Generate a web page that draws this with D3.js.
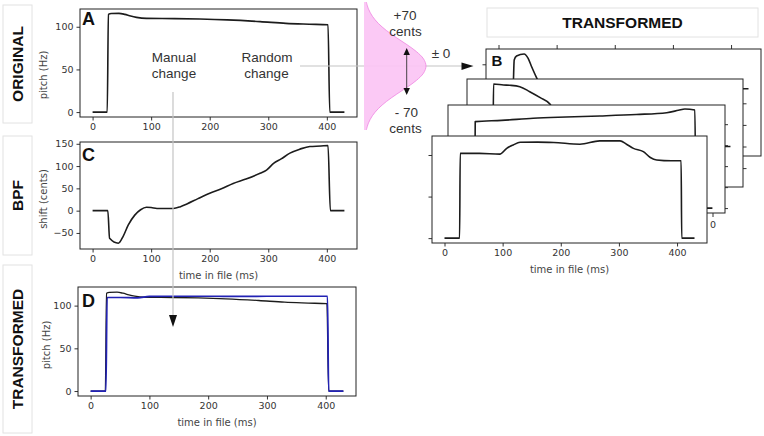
<!DOCTYPE html>
<html lang="en">
<head>
  <meta charset="UTF-8">
  <title>Original, BPF and transformed pitch</title>
  <script src="https://d3js.org/d3.v7.min.js"></script>
  <style>
    body {
      margin: 0;
      background: #fff;
    }

    svg {
      display: block;
    }
  </style>
</head>

<body>
  <svg></svg>

  <script>
    // ticks
    const xTicks = [0, 100, 200, 300, 400];
    const pitchTicks = [0, 50, 100];
    const shiftTicks = [-50, 0, 50, 100, 150];

    // A - original pitch (Hz) against time in file (ms)
    const origTime = [0, 25, 27, 32, 45, 55, 65, 75, 92, 140, 183, 230, 286, 330, 370, 402, 405, 430];
    const origPitch = [0, 0, 114.5, 115.5, 115.7, 114.5, 112.5, 111, 109.8, 109.5, 109, 108, 106, 104, 103, 102.3, 0, 0];

    // C - band pass filter shift (cents)
    const shiftTime = [0, 26, 29, 44, 52, 61, 72, 82, 92, 100, 110, 138, 150, 161, 180, 200, 220, 240, 262, 286, 297, 309, 322, 337, 354, 371, 390, 402, 406, 430];
    const shiftCents = [0, 0, -62, -73, -58, -32, -10, 2, 7.5, 7, 5, 5, 9, 15, 27, 39, 49, 61, 71, 84, 91, 106, 116, 129, 138, 144, 145, 146, 0, 0];

    // D - manually transformed pitch (Hz)
    const manualTime = [0, 26, 28, 50, 80, 100, 150, 200, 250, 300, 350, 403, 405, 430];
    const manualPitch = [0, 0, 109.5, 109.5, 109, 110.8, 111, 111, 110.8, 111, 111, 111, 0, 0];

    // B - randomly transformed pitch curves, back to front (Hz)
    const rand1Time = [0, 25, 27, 31, 44, 51, 57, 66, 75, 430];
    const rand1Pitch = [0, 0, 94, 107, 113.5, 99.4, 72, 34, 0, 0];
    const rand2Time = [0, 23, 24, 41, 52, 69, 86, 104, 121, 150, 430];
    const rand2Pitch = [0, 0, 115.7, 113.9, 113.3, 110.7, 101.5, 90.4, 78.1, 0, 0];
    const rand3Time = [0, 24, 25, 70, 124, 180, 238, 300, 352, 372, 383, 400, 402, 430];
    const rand3Pitch = [0, 0, 103, 104.5, 107, 108.5, 109.8, 111.5, 113.7, 116.5, 118.1, 116.9, 0, 0];
    const rand4Time = [0, 26, 27, 60, 95, 107, 118, 130, 160, 188, 233, 267, 302, 313, 325, 342, 354, 365, 390, 407, 408, 430];
    const rand4Pitch = [0, 0, 102, 102, 101, 108, 112, 115.3, 115.5, 115, 113, 117, 117, 113, 108, 104, 97, 94, 93, 93, 0, 0];

    // random change distribution (cents, relative density)
    const gaussCents = [-180, -160, -140, -120, -100, -80, -60, -40, -20, 0, 20, 40, 60, 80, 100, 120, 140, 160, 180];
    const gaussDensity = [0.037, 0.073, 0.135, 0.23, 0.36, 0.52, 0.693, 0.849, 0.96, 1, 0.96, 0.849, 0.693, 0.52, 0.36, 0.23, 0.135, 0.073, 0.037];

    const W = 764, H = 436;
    const xDomain = [-21.5, 451.5];
    const tickFont = "DejaVu Sans, sans-serif";
    const textFont = "Liberation Sans, Arial, sans-serif";

    const svg = d3.select("svg")
      .attr("width", W)
      .attr("height", H)
      .attr("viewBox", [0, 0, W, H]);

    svg.append("rect").attr("width", W).attr("height", H).attr("fill", "#fff");
    const defs = svg.append("defs");
    let clipN = 0;

    function makePanel(box, yDomain) {
      const x = d3.scaleLinear().domain(xDomain).range([box.x, box.x + box.w]);
      const y = d3.scaleLinear().domain(yDomain).range([box.y + box.h, box.y]);
      const id = "clip" + (clipN++);
      defs.append("clipPath").attr("id", id)
        .append("rect")
        .attr("x", box.x).attr("y", box.y).attr("width", box.w).attr("height", box.h);
      const g = svg.append("g");
      g.append("rect")
        .attr("x", box.x).attr("y", box.y).attr("width", box.w).attr("height", box.h)
        .attr("fill", "#fff");
      return { x, y, g, box, id };
    }

    function drawFrame(p) {
      p.g.append("rect")
        .attr("x", p.box.x).attr("y", p.box.y).attr("width", p.box.w).attr("height", p.box.h)
        .attr("fill", "none")
        .attr("stroke", "#222")
        .attr("stroke-width", 1);
    }

    function drawLine(p, times, values, color, width) {
      const pts = times.map((t, i) => [t, values[i]]);
      const line = d3.line().x(d => p.x(d[0])).y(d => p.y(d[1])).curve(d3.curveMonotoneX);
      p.g.append("path")
        .attr("clip-path", `url(#${p.id})`)
        .attr("d", line(pts))
        .attr("fill", "none")
        .attr("stroke", color)
        .attr("stroke-width", width)
        .attr("stroke-linejoin", "round");
    }

    function styleAxis(a) {
      a.attr("font-family", tickFont).attr("font-size", 9.5);
      a.select(".domain").remove();
      a.selectAll("line").attr("stroke", "#333");
      a.selectAll("text").attr("fill", "#333");
    }

    function xAxis(p, labels) {
      const ax = d3.axisBottom(p.x).tickValues(xTicks).tickSize(3.5).tickPadding(3);
      if (!labels) ax.tickFormat("");
      p.g.append("g")
        .attr("transform", `translate(0,${p.box.y + p.box.h})`)
        .call(ax)
        .call(styleAxis);
    }

    function yAxis(p, ticks, labels) {
      const ax = d3.axisLeft(p.y).tickValues(ticks).tickSize(3.5).tickPadding(3);
      if (!labels) ax.tickFormat("");
      p.g.append("g")
        .attr("transform", `translate(${p.box.x},0)`)
        .call(ax)
        .call(styleAxis);
    }

    function vLabel(txt, x, y) {
      svg.append("text")
        .attr("transform", `translate(${x},${y}) rotate(-90)`)
        .attr("text-anchor", "middle")
        .attr("dominant-baseline", "central")
        .attr("font-family", tickFont)
        .attr("font-size", 10)
        .attr("fill", "#444")
        .text(txt);
    }

    function xLabel(p) {
      svg.append("text")
        .attr("x", p.box.x + p.box.w / 2)
        .attr("y", p.box.y + p.box.h + 30)
        .attr("text-anchor", "middle")
        .attr("font-family", tickFont)
        .attr("font-size", 10)
        .attr("fill", "#444")
        .text("time in file (ms)");
    }

    function letter(txt, x, y, size) {
      svg.append("text")
        .attr("x", x).attr("y", y)
        .attr("font-family", textFont)
        .attr("font-weight", "bold")
        .attr("font-size", size)
        .attr("fill", "#111")
        .text(txt);
    }

    function rowLabel(txt, box, horizontal) {
      svg.append("rect")
        .attr("x", box.x).attr("y", box.y).attr("width", box.w).attr("height", box.h)
        .attr("fill", "none").attr("stroke", "#e2e2e2").attr("stroke-width", 1);
      const cx = box.x + box.w / 2, cy = box.y + box.h / 2;
      const t = svg.append("text")
        .attr("text-anchor", "middle")
        .attr("font-family", textFont)
        .attr("font-weight", "bold")
        .attr("font-size", 15.5)
        .attr("fill", "#111")
        .text(txt);
      if (horizontal) t.attr("x", cx).attr("y", cy + 5.5);
      else t.attr("transform", `translate(${cx + 5.5},${cy}) rotate(-90)`);
    }

    // ---- left column -------------------------------------------------
    rowLabel("ORIGINAL", { x: 3, y: 5, w: 29, h: 118 }, false);
    rowLabel("BPF", { x: 3, y: 136, w: 29, h: 119 }, false);
    rowLabel("TRANSFORMED", { x: 3, y: 265, w: 29, h: 168 }, false);
    rowLabel("TRANSFORMED", { x: 487, y: 8, w: 271, h: 29 }, true);

    // A
    const pA = makePanel({ x: 80, y: 9, w: 277, h: 108 }, [-5.75, 120.8]);
    drawLine(pA, origTime, origPitch, "#1c1c1c", 1.6);
    xAxis(pA, true);
    yAxis(pA, pitchTicks, true);
    drawFrame(pA);
    vLabel("pitch (Hz)", 43, 75);
    letter("A", 82, 25, 18);

    // C
    const pC = makePanel({ x: 80, y: 142, w: 277, h: 107 }, [-86, 154]);
    drawLine(pC, shiftTime, shiftCents, "#1c1c1c", 1.6);
    xAxis(pC, true);
    yAxis(pC, shiftTicks, true);
    drawFrame(pC);
    vLabel("shift (cents)", 43, 199);
    xLabel(pC);
    letter("C", 82, 160.5, 18);

    // D
    const pD = makePanel({ x: 78, y: 287, w: 278, h: 109 }, [-5.8, 121.8]);
    drawLine(pD, origTime, origPitch, "#1c1c1c", 1.3);
    drawLine(pD, manualTime, manualPitch, "#2222b4", 1.7);
    xAxis(pD, true);
    yAxis(pD, pitchTicks, true);
    drawFrame(pD);
    vLabel("pitch (Hz)", 46.5, 345);
    xLabel(pD);
    letter("D", 82, 306.5, 18);

    // ---- stacked random transformations (B) ---------------------------
    const pB1 = makePanel({ x: 486, y: 49, w: 275, h: 107 }, [-220, 130]);
    drawLine(pB1, rand1Time, rand1Pitch, "#1c1c1c", 1.6);
    pB1.g.append("g")
      .attr("transform", `translate(0,${pB1.box.y})`)
      .call(d3.axisTop(pB1.x).tickValues(xTicks).tickSize(4).tickFormat(""))
      .call(styleAxis);
    yAxis(pB1, [80], false);
    drawFrame(pB1);
    letter("B", 491.5, 66, 15);

    const pB2 = makePanel({ x: 467, y: 79, w: 276, h: 108 }, [-75, 125]);
    drawLine(pB2, rand2Time, rand2Pitch, "#1c1c1c", 1.6);
    pB2.g.append("g")
      .attr("transform", `translate(${pB2.box.x + pB2.box.w},0)`)
      .call(d3.axisRight(pB2.y).tickValues([-40, 0, 40, 80]).tickSize(3.5).tickFormat(""))
      .call(styleAxis);
    drawFrame(pB2);

    const pB3 = makePanel({ x: 448, y: 105, w: 277, h: 108 }, [-5.85, 122.85]);
    drawLine(pB3, rand3Time, rand3Pitch, "#1c1c1c", 1.6);
    pB3.g.append("g")
      .attr("transform", `translate(${pB3.box.x + pB3.box.w},0)`)
      .call(d3.axisRight(pB3.y).tickValues([0, 25, 50, 75, 100]).tickSize(3).tickFormat(""))
      .call(styleAxis);
    drawFrame(pB3);
    // stray tick + label peeking out under this panel
    pB3.g.append("line")
      .attr("x1", pB3.box.x + pB3.box.w - 12).attr("x2", pB3.box.x + pB3.box.w - 12)
      .attr("y1", pB3.box.y + pB3.box.h).attr("y2", pB3.box.y + pB3.box.h + 4)
      .attr("stroke", "#333");
    pB3.g.append("text")
      .attr("x", pB3.box.x + pB3.box.w - 12).attr("y", pB3.box.y + pB3.box.h + 14.5)
      .attr("text-anchor", "middle")
      .attr("font-family", tickFont).attr("font-size", 9.5).attr("fill", "#333")
      .text("0");

    const pB4 = makePanel({ x: 432, y: 136, w: 275, h: 107 }, [-5.85, 122.85]);
    drawLine(pB4, rand4Time, rand4Pitch, "#1c1c1c", 1.6);
    xAxis(pB4, true);
    yAxis(pB4, pitchTicks, false);
    drawFrame(pB4);
    xLabel(pB4);

    // ---- annotations ------------------------------------------------
    const note = (txt, x, y) => svg.append("text")
      .attr("x", x).attr("y", y)
      .attr("text-anchor", "middle")
      .attr("font-family", textFont)
      .attr("font-size", 13.5)
      .attr("fill", "#333")
      .text(txt);

    note("Manual", 174, 62);
    note("change", 174, 77.5);
    note("Random", 267, 62);
    note("change", 266.5, 77.5);

    // manual change pointer
    svg.append("line")
      .attr("x1", 173).attr("x2", 173).attr("y1", 92).attr("y2", 316)
      .attr("stroke", "#c4c4c4").attr("stroke-width", 1.2);
    svg.append("path")
      .attr("d", "M169,315L177,315L173,327Z")
      .attr("fill", "#111");

    // random change pointer
    svg.append("line")
      .attr("x1", 300).attr("x2", 463).attr("y1", 66).attr("y2", 66)
      .attr("stroke", "#c4c4c4").attr("stroke-width", 1.2);
    svg.append("path")
      .attr("d", "M461.5,62.5L461.5,70L473.5,66Z")
      .attr("fill", "#111");

    // distribution of random changes
    const gy = d3.scaleLinear().domain([-180, 180]).range([130, 2]);
    const gx = d3.scaleLinear().domain([0, 1]).range([364, 426]);
    const gPts = gaussCents.map((c, i) => [c, gaussDensity[i]]);
    svg.append("path")
      .attr("d", d3.area().y(d => gy(d[0])).x0(gx(0)).x1(d => gx(d[1])).curve(d3.curveCatmullRom)(gPts))
      .attr("fill", "#fbc4f4")
      .attr("fill-opacity", 0.92);
    svg.append("path")
      .attr("d", d3.line().y(d => gy(d[0])).x(d => gx(d[1])).curve(d3.curveCatmullRom)(gPts))
      .attr("fill", "none")
      .attr("stroke", "#f08fe4")
      .attr("stroke-width", 0.9);

    svg.append("line")
      .attr("x1", 406.7).attr("x2", 406.7).attr("y1", 53).attr("y2", 90)
      .attr("stroke", "#333").attr("stroke-width", 0.9);
    svg.append("path").attr("d", "M403.5,55L409.9,55L406.7,48Z").attr("fill", "#111");
    svg.append("path").attr("d", "M403.5,88L409.9,88L406.7,95Z").attr("fill", "#111");

    note("+70", 405, 20);
    note("cents", 405.5, 36);
    note("- 70", 406.5, 117);
    note("cents", 405.5, 132.5);
    note("± 0", 441, 58);
  </script>
</body>

</html>
